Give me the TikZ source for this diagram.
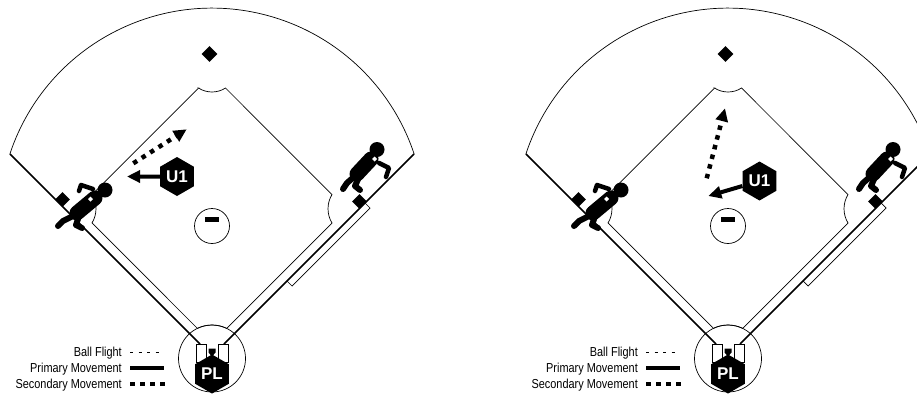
\documentclass[tikz,border=0pt]{standalone}
\usepackage{fontspec}
\setmainfont{Liberation Sans}
\newfontfamily\narrowsans{Liberation Sans}[FakeStretch=0.84]
\usetikzlibrary{arrows.meta,shapes.geometric}
\tikzset{
  turf/.style={line width=0.7pt},
  foul/.style={line width=1.6pt},
  bag/.style={diamond,fill=black,inner sep=0pt,minimum size=15pt},
  bbox/.style={draw,fill=white,line width=0.7pt},
  hexa/.style={regular polygon,regular polygon sides=6,shape border rotate=30,
    fill=black,text=white,inner sep=0pt,minimum size=39pt,
    font=\fontsize{17}{19}\selectfont\bfseries},
  primary/.style={line width=4pt,-{Triangle[length=13pt,width=12pt]}},
  secondary/.style={line width=4.5pt,dash pattern=on 4.5pt off 5.5pt,
    -{Triangle[length=13pt,width=12pt]}},
  flight/.style={line width=0.8pt,dash pattern=on 3pt off 5.5pt},
  lbl/.style={font=\narrowsans\fontsize{13}{15}\selectfont,inner sep=0pt},
  fig/.style={line cap=round,line join=round},
  % one whole diamond: fence, foul lines, grass, bases, coaches, legend
  field/.pic={
    \draw[turf] (9.9,153.9) arc[start angle=198.4,end angle=341.6,radius=213];
    \draw[foul] (9.9,153.9) -- (200,344);
    \draw[foul] (414.1,153.9) -- (224,344);
    \draw[turf] (365,203) -- (370,208) -- (292,286) -- (287,281);
    % infield grass with cut-outs
    \draw[turf] (198.5,88) -- (92,194.5)
      arc[start angle=-31.3,end angle=31.3,radius=27.4] -- (197.4,328.4)
      arc[start angle=244.1,end angle=295.9,radius=33.5] -- (332,223)
      arc[start angle=148.7,end angle=211.3,radius=27.4] -- (225.5,88)
      arc[start angle=57,end angle=123,radius=24.8] -- cycle;
    \draw[turf] (212,358.5) circle[radius=33.5];
    \draw[turf] (212,226) circle[radius=17.5];
    \fill (205,217) rectangle (219,222);
    \node[bag,minimum size=16pt] (b2) at (209.5,54) {};
    \node[bag] (b3) at (62.5,199.5) {};
    \node[bag] (b1) at (359.5,201.5) {};
    % batter's boxes and plate
    \draw[bbox] (196,344) rectangle (206,362.7);
    \draw[bbox] (218.3,344) rectangle (228.3,362.7);
    \node[hexa] (pl) at (212,374) {PL};
    \fill (208.5,348.5) -- (215.5,348.5) -- (215.5,352.5) -- (212,356.5)
      -- (208.5,352.5) -- cycle;
    % third base coach
    \fill (105,190) circle[radius=7.5];
    \draw[fig,line width=15pt] (95,198) -- (77,213);
    \draw[fig,line width=6pt] (75,215) -- (63,221) -- (58,226);
    \draw[fig,line width=6pt] (79,216) -- (76,225) -- (82,228);
    \draw[fig,line width=4.5pt] (93,189) -- (81,185) -- (79,191);
    \fill[white] (88,199) -- (90.5,196.5) -- (93,199) -- (90.5,201.5) -- cycle;
    % first base coach
    \fill (377,149.5) circle[radius=7.5];
    \draw[fig,line width=15pt] (371,159) -- (357,174);
    \draw[fig,line width=6pt] (355,176) -- (347,183) -- (343,189);
    \draw[fig,line width=6pt] (359,177) -- (355,186) -- (360,190);
    \draw[fig,line width=4.5pt] (379,163) -- (389,168) -- (386,177);
    \fill[white] (372,159) -- (374.5,156.5) -- (377,159) -- (374.5,161.5) -- cycle;
    % legend
    \node[lbl,anchor=base east] (lgball) at (122,356.5) {Ball Flight};
    \node[lbl,anchor=base east] (lgprim) at (122,372.5) {Primary Movement};
    \node[lbl,anchor=base east] (lgsec) at (122,388.5) {Secondary Movement};
    \draw[flight] (130,352) -- (163,352);
    \draw[line width=4.5pt] (130,368) -- (164,368);
    \draw[line width=4.5pt,dash pattern=on 4.5pt off 5.5pt] (130,384) -- (165,384);
  },
}

\begin{document}
\begin{tikzpicture}[x=1pt,y=-1pt]
  \useasboundingbox (0,0) rectangle (917,394);
  \clip (0,0) rectangle (917,394);
  \begin{scope}
    \pic (lf) {field};
    \node[hexa] (u1a) at (177,176.5) {U1};
    \coordinate (pa) at (127,176.5);
    \draw[primary] (u1a) -- (pa);
    \coordinate (sa0) at (133.3,163.3);
    \coordinate (sa1) at (186.7,129.3);
    \draw[secondary] (sa0) -- (sa1);
  \end{scope}
  \begin{scope}[xshift=516pt]
    \pic (rf) {field};
    \node[hexa] (u1b) at (243.5,181) {U1};
    \coordinate (pb) at (192.3,196);
    \draw[primary] (u1b) -- (pb);
    \coordinate (sb0) at (190.7,178.3);
    \coordinate (sb1) at (209,108.3);
    \draw[secondary] (sb0) -- (sb1);
  \end{scope}
\end{tikzpicture}
\end{document}
